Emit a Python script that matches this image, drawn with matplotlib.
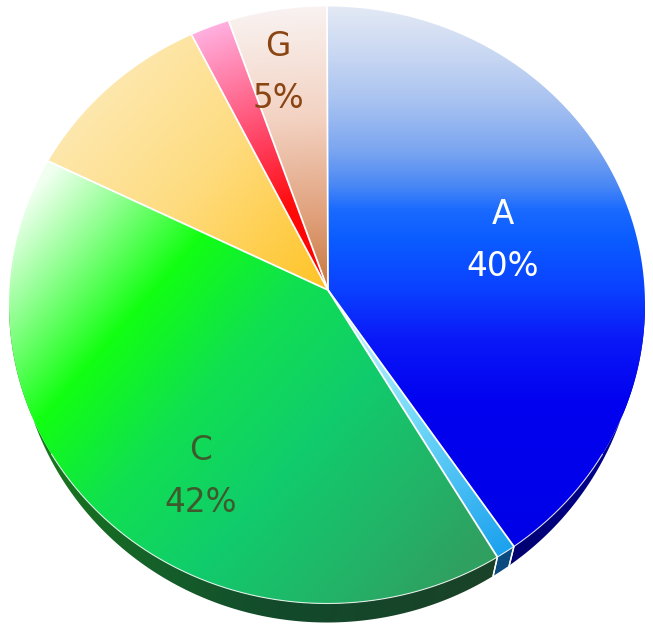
import numpy as np
import matplotlib
matplotlib.use("Agg")
import matplotlib.pyplot as plt
from matplotlib.patches import Polygon
from matplotlib.colors import to_rgb

# ---- data ----
categories = ["A", "B", "C", "D", "F", "G"]
values = [40, 1, 42, 10, 2, 5]
show_label = [True, False, True, False, False, True]

# ---- style ----
W, H = 653, 627


def ystops(y0, y1, pairs):
    return [((y - y0) / (y1 - y0), c) for y, c in pairs]


top_gradients = {
    "A": ((328, 8), (328, 560), ystops(8, 560, [
        (8, "#e2e9f5"), (60, "#c5d5f2"), (100, "#a9c3f0"), (150, "#7ca6f0"),
        (185, "#4a88f5"), (210, "#1a6aff"), (240, "#0a5cff"), (290, "#0a40ff"),
        (340, "#0a18f8"), (400, "#0202f0"), (560, "#0000e6")])),
    "B": ((328, 290), (505, 555), [(0.0, "#d8fbff"), (0.5, "#70d8f8"), (1.0, "#1aa0ee")]),
    "C": ((40, 185), (470, 560), [(0.0, "#f0fff0"), (0.12, "#90ff90"), (0.27, "#12ff12"),
                                  (0.45, "#10e050"), (0.65, "#10cc6c"), (0.85, "#22b468"),
                                  (1.0, "#30a060")]),
    "D": ((80, 70), (320, 285), [(0.0, "#fdeab8"), (0.5, "#fedc80"), (1.0, "#ffc428")]),
    "F": ((215, 25), (322, 285), [(0.0, "#ffb0e0"), (0.45, "#ff4060"), (0.7, "#ff0a0a"), (1.0, "#ff0000")]),
    "G": ((300, 5), (320, 288), [(0.0, "#f9f3f2"), (0.4, "#f3d2c2"), (0.75, "#e0a07a"), (1.0, "#c87840")]),
}
side_gradients = {
    "A": ((640, 400), (515, 570), [(0.0, "#000098"), (1.0, "#000070")]),
    "B": ((500, 560), (515, 560), [(0.0, "#0a4a7e"), (1.0, "#0a4a7e")]),
    "C": ((30, 420), (495, 600), [(0.0, "#1a7a1c"), (0.35, "#15602a"), (0.6, "#134a2c"), (1.0, "#1a4228")]),
    "D": ((0, 0), (1, 1), [(0.0, "#c09030"), (1.0, "#c09030")]),
    "F": ((0, 0), (1, 1), [(0.0, "#900000"), (1.0, "#900000")]),
    "G": ((0, 0), (1, 1), [(0.0, "#8a5030"), (1.0, "#8a5030")]),
}
label_style = {
    "A": dict(pos=(503, 241), color="white"),
    "C": dict(pos=(201, 477), color="#3e5a2c"),
    "G": dict(pos=(278, 73), color="#8b4513"),
}

cx, cy, rx, ry = 327.0, 305.0, 318.0, 298.5
apex = (328.0, 290.0)
depth = 19.0
shrink = 8.0

fig = plt.figure(figsize=(W / 100, H / 100), dpi=100)
ax = fig.add_axes([0, 0, 1, 1])

xs = np.arange(W) + 0.5
ys = np.arange(H) + 0.5
X, Y = np.meshgrid(xs, ys)


def ell(phi_deg, dy=0.0, dr=0.0):
    p = np.radians(phi_deg)
    return cx + (rx - dr) * np.sin(p), cy - ry * np.cos(p) + dy


def grad_fill(pts, grad, zorder):
    p0, p1, stops = grad
    patch = Polygon(pts, closed=True, facecolor="none", edgecolor="none")
    ax.add_patch(patch)
    d = np.array(p1, float) - np.array(p0, float)
    t = ((X - p0[0]) * d[0] + (Y - p0[1]) * d[1]) / (d @ d)
    t = np.clip(t, 0, 1)
    pos = [s[0] for s in stops]
    cols = np.array([to_rgb(s[1]) for s in stops])
    img = np.stack([np.interp(t, pos, cols[:, k]) for k in range(3)], axis=-1)
    im = ax.imshow(img, extent=(0, W, H, 0), zorder=zorder, interpolation="bilinear")
    im.set_clip_path(patch)


total = float(sum(values))
cum = np.concatenate([[0.0], np.cumsum(values)]) / total * 360.0

# side faces (visible lower half)
for i, cat in enumerate(categories):
    a1, a2 = max(cum[i], 90.0), min(cum[i + 1], 270.0)
    if a2 <= a1:
        continue
    ph = np.linspace(a1, a2, max(3, int((a2 - a1) * 2)))
    top = np.array([ell(p) for p in ph])
    bot = np.array([ell(p, depth, shrink) for p in ph[::-1]])
    pts = np.vstack([top, bot])
    grad_fill(pts, side_gradients[cat], 1)
    for b in (a1, a2):
        if 90.0 < b < 270.0:
            x0, y0 = ell(b)
            x1, y1 = ell(b, depth, shrink)
            ax.plot([x0, x1], [y0, y1], color="white", lw=1.0, zorder=1.5)

# top faces
for i, cat in enumerate(categories):
    a1, a2 = cum[i], cum[i + 1]
    ph = np.linspace(a1, a2, max(3, int((a2 - a1) * 2)))
    arc = np.array([ell(p) for p in ph])
    pts = np.vstack([[apex], arc])
    grad_fill(pts, top_gradients[cat], 2)

# white separators
for b in cum[:-1]:
    x0, y0 = ell(b)
    ax.plot([apex[0], x0], [apex[1], y0], color="white", lw=1.3, zorder=3,
            solid_capstyle="butt")
ph = np.linspace(120, 240, 300)
rim = np.array([ell(p) for p in ph])
ax.plot(rim[:, 0], rim[:, 1], color="white", lw=0.8, alpha=0.8, zorder=3)

# labels
for i, cat in enumerate(categories):
    if not show_label[i]:
        continue
    st = label_style[cat]
    x, y = st["pos"]
    pct = f"{values[i] / total * 100:.0f}%"
    ax.text(x, y - 26, cat, color=st["color"], fontsize=23.5, ha="center", va="center",
            family="DejaVu Sans", zorder=4)
    ax.text(x, y + 26, pct, color=st["color"], fontsize=23.5, ha="center", va="center",
            family="DejaVu Sans", zorder=4)

ax.set_xlim(0, W)
ax.set_ylim(H, 0)
ax.set_aspect("auto")
ax.axis("off")
fig.savefig("out.png", dpi=100, facecolor="white")
